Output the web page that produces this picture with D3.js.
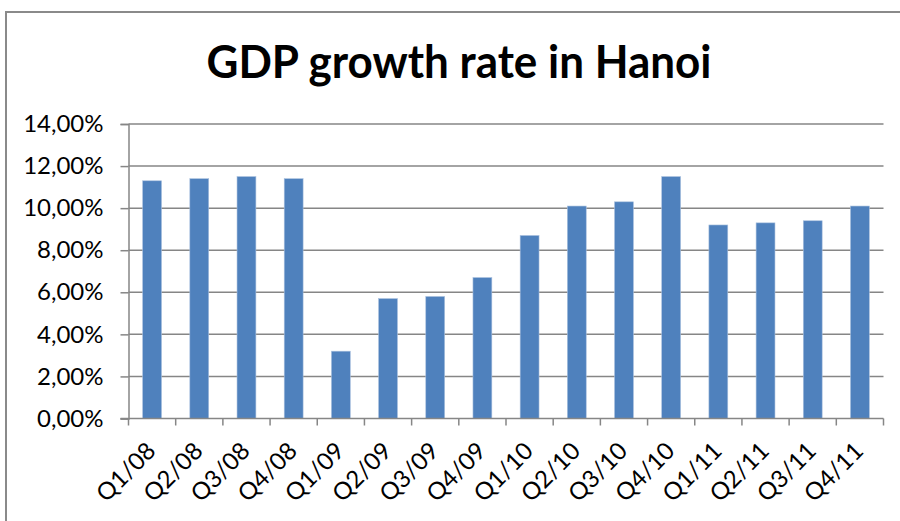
<!DOCTYPE html>
<html>
<head>
<meta charset="utf-8">
<script src="https://cdn.jsdelivr.net/npm/d3@7"></script>
<style>
  html, body { margin: 0; padding: 0; background: #fff; }
  svg { display: block; }
  text { font-family: Lato, "Open Sans", sans-serif; fill: #000; }
</style>
</head>
<body>
<svg id="chart" width="900" height="521"></svg>
<script>
// Quarterly GDP growth rate in Hanoi, in percent
const quarters = ["Q1/08","Q2/08","Q3/08","Q4/08","Q1/09","Q2/09","Q3/09","Q4/09",
                  "Q1/10","Q2/10","Q3/10","Q4/10","Q1/11","Q2/11","Q3/11","Q4/11"];
const growth = [11.3, 11.4, 11.5, 11.4, 3.2, 5.7, 5.8, 6.7,
                8.7, 10.1, 10.3, 11.5, 9.2, 9.3, 9.4, 10.1];
const yTicks = [0, 2, 4, 6, 8, 10, 12, 14];
const title = "GDP growth rate in Hanoi";

const svg = d3.select("#chart");
const gridColor = "#868686";
const plot = { left: 128.5, right: 883.5, top: 124, bottom: 418.5 };

// chart frame
svg.append("path")
  .attr("d", `M6,521 L6,12 L900,12`)
  .attr("fill", "none").attr("stroke", "#8a8a8a").attr("stroke-width", 2);

// title
svg.append("text")
  .attr("x", 459).attr("y", 78)
  .attr("text-anchor", "middle")
  .attr("font-size", 45).attr("font-weight", 700)
  .attr("textLength", 505).attr("lengthAdjust", "spacingAndGlyphs")
  .text(title);

const x = d3.scaleBand().domain(quarters)
  .range([plot.left, plot.right]).paddingInner(0.6).paddingOuter(0.3);
const xStep = x.step();
const y = d3.scaleLinear().domain([0, 14]).range([plot.bottom, plot.top]);

// horizontal gridlines
svg.append("g").selectAll("line").data(yTicks.filter(d => d > 0)).join("line")
  .attr("x1", plot.left).attr("x2", plot.right)
  .attr("y1", d => y(d)).attr("y2", d => y(d))
  .attr("stroke", gridColor).attr("stroke-width", 1.5);

// bars
svg.append("g").selectAll("rect").data(growth).join("rect")
  .attr("x", (d, i) => x(quarters[i]))
  .attr("width", x.bandwidth())
  .attr("y", d => y(d))
  .attr("height", d => y(0) - y(d))
  .attr("fill", "#4F81BD")
  .attr("stroke", "#a9c0de").attr("stroke-width", 0.6);

// y axis
const yAxis = d3.axisLeft(y).tickValues(yTicks).tickSize(8).tickPadding(17)
  .tickFormat(d => d3.format(".2f")(d).replace(".", ",") + "%");
const gy = svg.append("g").attr("transform", `translate(${plot.left},0)`).call(yAxis);
gy.select(".domain").attr("stroke", gridColor).attr("stroke-width", 1.5);
gy.selectAll(".tick line").attr("stroke", gridColor).attr("stroke-width", 1.5);
gy.selectAll(".tick text").attr("font-size", 24).attr("font-family", "Lato").attr("fill", "#000");

// x axis baseline and category separators
svg.append("line")
  .attr("x1", plot.left - 8).attr("x2", plot.right)
  .attr("y1", plot.bottom).attr("y2", plot.bottom)
  .attr("stroke", gridColor).attr("stroke-width", 1.5);
const sepIdx = d3.range(quarters.length + 1);
svg.append("g").selectAll("line").data(sepIdx).join("line")
  .attr("x1", i => plot.left + i * xStep).attr("x2", i => plot.left + i * xStep)
  .attr("y1", plot.bottom).attr("y2", plot.bottom + 7)
  .attr("stroke", gridColor).attr("stroke-width", 1.5);

// rotated category labels
svg.append("g").selectAll("text").data(quarters).join("text")
  .attr("transform", d => `translate(${x(d) + x.bandwidth() / 2 + 5},${plot.bottom + 34}) rotate(-45)`)
  .attr("text-anchor", "end")
  .attr("font-size", 24)
  .text(d => d);
</script>
</body>
</html>
